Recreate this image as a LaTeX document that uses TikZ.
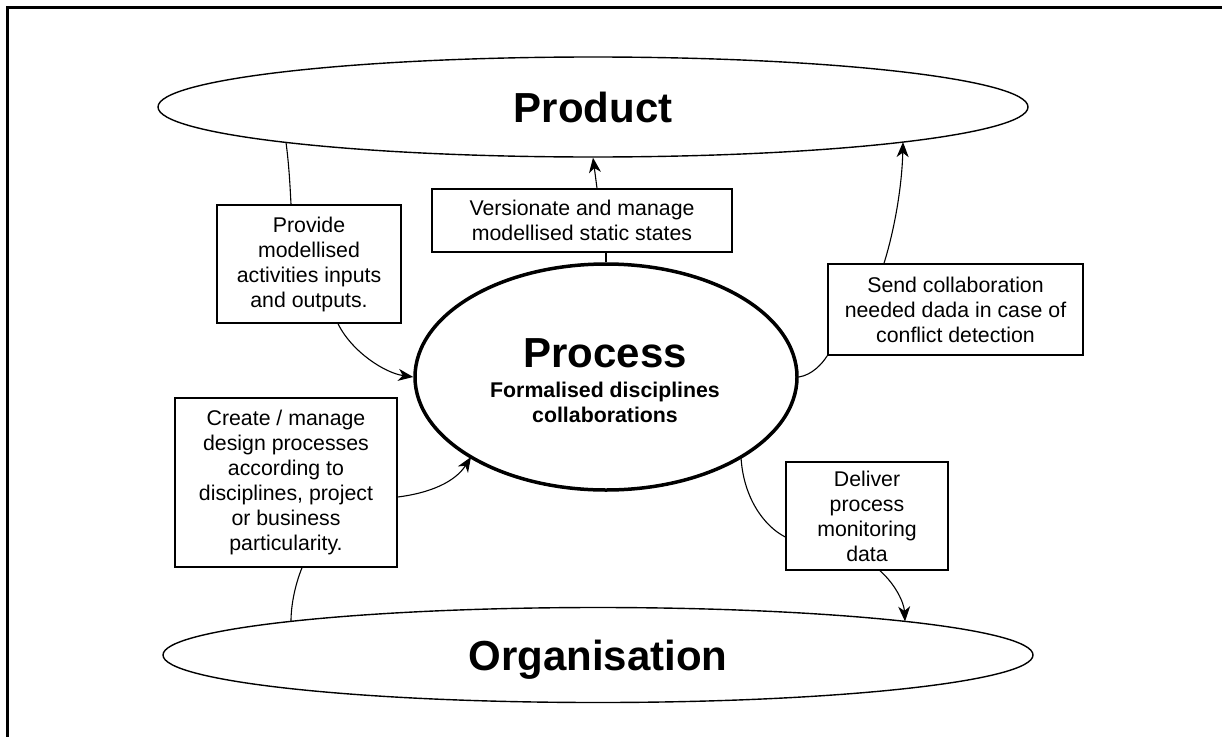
\documentclass[tikz,border=0pt]{standalone}
\usepackage{fontspec}
\setmainfont{Liberation Sans}
\usetikzlibrary{shapes.geometric,arrows.meta,calc}
\begin{document}
\begin{tikzpicture}[x=1pt,y=-1pt,
  ell/.style={draw, ellipse, inner sep=0pt, line width=1.4pt},
  lbl/.style={draw, rectangle, line width=1.5pt, align=center, inner sep=0pt, font=\fontsize{21.3}{25}\selectfont},
  conn/.style={line width=1.1pt},
  arr/.style={conn, -{Stealth[length=15pt,width=12pt,inset=4.5pt]}},
  bigtitle/.style={font=\bfseries\fontsize{42}{50}\selectfont},
  subtitle/.style={font=\bfseries\fontsize{21.3}{25}\selectfont, anchor=base, inner sep=0pt}]
\useasboundingbox (0,0) rectangle (1222,736);
\clip (0,0) rectangle (1222,736);
\draw[line width=3pt] (7,7) rectangle (1260,780);

\node[ell, minimum width=870pt, minimum height=100pt, bigtitle, text depth=0pt] (prod) at (593,107) {Product};
\node[ell, minimum width=870pt, minimum height=95pt, bigtitle, text depth=0pt] (org) at (598,655) {Organisation};
\node[ell, line width=3.5pt, minimum width=382pt, minimum height=226pt] (proc) at (606,377) {};

\node[bigtitle, anchor=base, inner sep=0pt] (ptitle) at (605,367) {Process};
\node[subtitle] (psub1) at (605,397) {Formalised disciplines};
\node[subtitle] (psub2) at (605,422) {collaborations};

\node[lbl, minimum width=184pt, minimum height=118pt] (b1) at (309,264) {Provide\\modellised\\activities inputs\\and outputs.};
\node[lbl, minimum width=300pt, minimum height=63pt] (b2) at (582,220.5) {Versionate and manage\\modellised static states};
\node[lbl, minimum width=255pt, minimum height=91pt] (b3) at (955.5,309.5) {Send collaboration\\needed dada in case of\\conflict detection};
\node[lbl, minimum width=222pt, minimum height=169pt] (b4) at (286,482.5) {Create / manage\\design processes\\according to\\disciplines, project\\or business\\particularity.};
\node[lbl, minimum width=162pt, minimum height=108pt] (b5) at (867,516) {Deliver\\process\\monitoring\\data};

\draw[conn] ($(prod.center)+(-307,35.4)$) .. controls (289,165) and (290,185) .. ([xshift=-18pt]b1.north);
\draw[arr] ([xshift=29pt]b1.south) .. controls (352,352) and (385,373) .. (proc.west);
\draw[conn] (proc.north) -- ([xshift=24pt]b2.south);
\draw[arr] ([xshift=15pt]b2.north) -- (prod.south);
\draw[conn] (proc.east) .. controls (812,375) and (822,364) .. (b3.south west);
\draw[arr] ([xshift=-71.5pt]b3.north) .. controls (895,228) and (902,185) .. ($(prod.center)+(310,35.1)$);
\draw[arr] ([yshift=-14.5pt]b4.east) .. controls (430,493) and (455,482) .. ($(proc.center)+(-135,80)$);
\draw[conn] ([xshift=16pt]b4.south) .. controls (295,585) and (291,605) .. ($(org.center)+(-307,-33.6)$);
\draw[conn] ($(proc.center)+(135,80)$) .. controls (743,495) and (762,525) .. ([yshift=-21pt]b5.west);
\draw[arr] ([xshift=13pt]b5.south) .. controls (896,585) and (904,603) .. ($(org.center)+(307,-33.6)$);
\end{tikzpicture}
\end{document}
